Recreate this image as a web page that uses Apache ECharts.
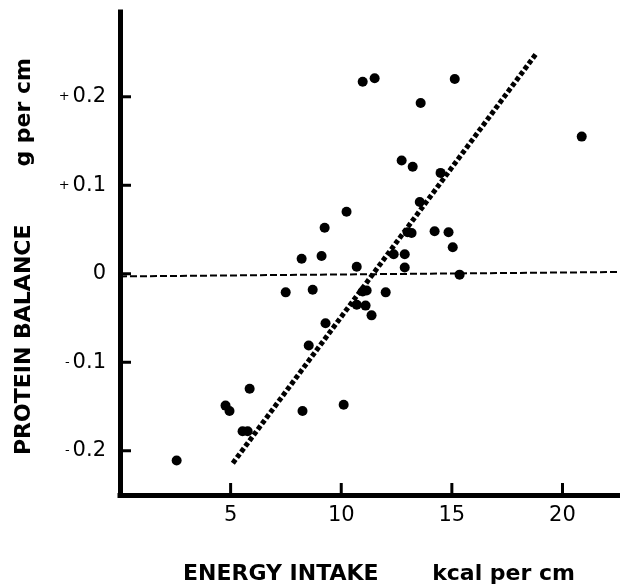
<!DOCTYPE html>
<html>
<head>
<meta charset="utf-8">
<script src="https://cdn.jsdelivr.net/npm/echarts@6/dist/echarts.min.js"></script>
<style>
html,body{margin:0;padding:0;background:#fff;}
#chart{width:620px;height:588px;}
</style>
</head>
<body>
<div id="chart"></div>
<script>
// Energy intake (kcal per cm) for each subject
const energyIntake = [2.56,4.77,4.95,5.86,5.54,5.77,8.25,10.11,8.53,9.29,7.49,8.71,8.21,9.11,9.25,10.24,10.70,10.97,11.15,12.01,10.70,11.10,11.37,10.97,11.51,15.13,13.59,12.73,13.23,14.49,13.55,13.00,13.18,14.22,14.85,15.04,12.37,12.87,12.87,15.35,20.87];
// Protein balance (g per cm)
const proteinBalance = [-0.211,-0.149,-0.155,-0.130,-0.178,-0.178,-0.155,-0.148,-0.081,-0.056,-0.021,-0.018,0.017,0.020,0.052,0.070,0.008,-0.020,-0.019,-0.021,-0.035,-0.036,-0.047,0.217,0.221,0.220,0.193,0.128,0.121,0.114,0.081,0.047,0.046,0.048,0.047,0.030,0.022,0.022,0.007,-0.001,0.155];
// Regression line end points
const regX = [5.10, 18.79];
const regY = [-0.214, 0.248];
// Zero-balance reference line
const zeroX = [0, 22.6];
const zeroY = [-0.003, 0.002];
// Axis ranges
const xRange = [0, 22.6];
const yRange = [-0.25, 0.2958];
// Tick values and labels
const xTickValues = [5, 10, 15, 20];
const xTickLabels = ['5', '10', '15', '20'];
const yTickValues = [-0.2, -0.1, 0, 0.1, 0.2];
const yTickLabels = ['-0.2', '-0.1', '0', '+0.1', '+0.2'];
const xTitle = ['ENERGY INTAKE', 'kcal per cm'];
const yTitle = ['PROTEIN BALANCE', 'g per cm'];

const pts = energyIntake.map((x, i) => [x, proteinBalance[i]]);
const reg = regX.map((x, i) => [x, regY[i]]);
const zero = zeroX.map((x, i) => [x, zeroY[i]]);

function lookup(vals, labels, v) {
  for (let i = 0; i < vals.length; i++) if (Math.abs(vals[i] - v) < 1e-6) return labels[i];
  return '';
}

// inside tick bars sit a small fraction of each axis span inside the plot
const yTickX = xRange[0] + (xRange[1] - xRange[0]) * 0.011;
const xTickY = yRange[0] + (yRange[1] - yRange[0]) * 0.0124;

const chart = echarts.init(document.getElementById('chart'), null, {renderer: 'canvas'});
const labelFont = '"DejaVu Sans", sans-serif';
const titleFont = '"DejaVu Sans", sans-serif';
chart.setOption({
  animation: false,
  backgroundColor: '#fff',
  grid: {left: 120, right: 0, top: 12, bottom: 93, containLabel: false},
  xAxis: {
    type: 'value', min: xRange[0], max: xRange[1],
    splitLine: {show: false},
    axisLine: {show: true, onZero: false, lineStyle: {color: '#000', width: 5, cap: 'square'}},
    axisTick: {show: false},
    axisLabel: {show: true, margin: 10, color: '#000', fontFamily: labelFont, fontSize: 21,
      customValues: xTickValues,
      formatter: v => lookup(xTickValues, xTickLabels, v)}
  },
  yAxis: {
    type: 'value', min: yRange[0], max: yRange[1],
    splitLine: {show: false},
    axisLine: {show: true, onZero: false, lineStyle: {color: '#000', width: 5, cap: 'square'}},
    axisTick: {show: false},
    axisLabel: {show: true, margin: 14, color: '#000', fontFamily: labelFont, fontSize: 21,
      customValues: yTickValues,
      formatter: v => {
        const s = lookup(yTickValues, yTickLabels, v);
        if (s[0] === '+' || s[0] === '-') return '{p|' + s[0] + '}{n|' + s.slice(1) + '}';
        return '{n|' + s + '}';
      },
      rich: {
        p: {fontSize: 13, fontFamily: labelFont, color: '#000', padding: [0, 3, 0, 0]},
        n: {fontSize: 21, fontFamily: labelFont, color: '#000'}
      }
    }
  },
  series: [
    {type: 'line', data: zero, symbol: 'none', silent: true, z: 1,
      lineStyle: {color: '#000', width: 2, type: [7, 3]}},
    {type: 'line', data: reg, symbol: 'none', silent: true, z: 2,
      lineStyle: {color: '#000', width: 5, type: [4.5, 2.5]}},
    {type: 'scatter', data: pts, symbol: 'circle', symbolSize: 10, z: 3,
      itemStyle: {color: '#000', opacity: 1}},
    {type: 'scatter', silent: true, clip: false, z: 10,
      data: yTickValues.map(v => [yTickX, v]),
      symbol: 'rect', symbolSize: [11, 3],
      itemStyle: {color: '#000', opacity: 1}},
    {type: 'scatter', silent: true, clip: false, z: 10,
      data: xTickValues.map(v => [v, xTickY]),
      symbol: 'rect', symbolSize: [3, 12],
      itemStyle: {color: '#000', opacity: 1}}
  ],
  graphic: [
    {type: 'text', x: 183, y: 574, silent: true,
      style: {text: xTitle[0], fontFamily: titleFont, fontWeight: 'bold', fontSize: 22, fill: '#000',
        align: 'left', textAlign: 'left', verticalAlign: 'middle', textVerticalAlign: 'middle'}},
    {type: 'text', x: 575, y: 574, silent: true,
      style: {text: xTitle[1], fontFamily: titleFont, fontWeight: 'bold', fontSize: 22, fill: '#000',
        align: 'right', textAlign: 'right', verticalAlign: 'middle', textVerticalAlign: 'middle'}},
    {type: 'text', x: 24, y: 455, rotation: Math.PI / 2, silent: true,
      style: {text: yTitle[0], fontFamily: titleFont, fontWeight: 'bold', fontSize: 22, fill: '#000',
        align: 'left', textAlign: 'left', verticalAlign: 'middle', textVerticalAlign: 'middle'}},
    {type: 'text', x: 24, y: 58, rotation: Math.PI / 2, silent: true,
      style: {text: yTitle[1], fontFamily: titleFont, fontWeight: 'bold', fontSize: 22, fill: '#000',
        align: 'right', textAlign: 'right', verticalAlign: 'middle', textVerticalAlign: 'middle'}}
  ]
});
</script>
</body>
</html>
